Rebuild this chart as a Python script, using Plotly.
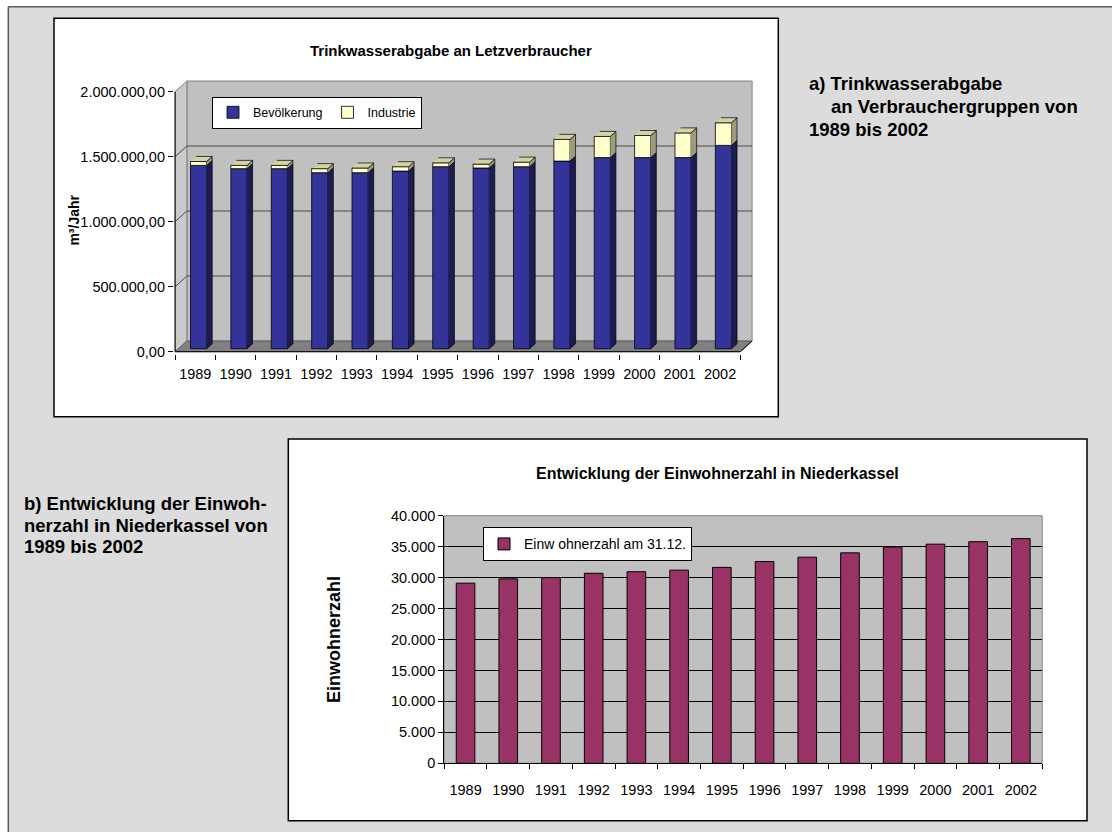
import plotly.graph_objects as go

W, H = 1112, 832
FONT = "Liberation Sans, Arial, sans-serif"

# data
jahre = ["1989", "1990", "1991", "1992", "1993", "1994", "1995",
         "1996", "1997", "1998", "1999", "2000", "2001", "2002"]
bevoelkerung = [1410000, 1385000, 1385000, 1354000, 1354000, 1366000, 1400000,
                1390000, 1400000, 1443000, 1470000, 1470000, 1470000, 1564000]
industrie = [30000, 25000, 25000, 31000, 36000, 34000, 30000,
             30000, 35000, 167000, 163000, 170000, 190000, 174000]
einwohner = [29100, 29800, 30000, 30700, 30950, 31200, 31650,
             32600, 33300, 34000, 34950, 35400, 35800, 36300]

ticks_a = [0, 500000, 1000000, 1500000, 2000000]
ticks_b = [0, 5000, 10000, 15000, 20000, 25000, 30000, 35000, 40000]

n = len(jahre)


def px_x(p):
    return p / W


def px_y(p):
    return 1 - p / H


# geometry of chart a (3D look), in pixels
A_LEFT, A_RIGHT = 175.1, 740.3
A_ZERO, A_TOP = 351.7, 91.7
A_MAX = ticks_a[-1]
cat_px = (A_RIGHT - A_LEFT) / n
val_px = (A_ZERO - A_TOP) / A_MAX
DX = 11.8 / cat_px
DY = 10.7 / val_px
x_rng = [-0.03, n + DX + 0.05]
y_rng = [-0.01 * A_MAX, A_MAX + DY + 0.01 * A_MAX]
BW = 0.4
D0, D1 = 0.28, 0.75

# geometry of chart b
B_LEFT, B_RIGHT = 444.2, 1042.2
B_ZERO, B_TOP = 763.3, 515.7

xc = [i + 0.5 for i in range(n)]
front_x = [c + D0 * DX for c in xc]

fig = go.Figure()

fig.add_bar(x=front_x, y=bevoelkerung, base=[D0 * DY] * n, width=BW,
            marker=dict(color="#333399", line=dict(color="black", width=0.8)),
            name="Bevölkerung", legend="legend", xaxis="x", yaxis="y")
fig.add_bar(x=front_x, y=industrie, base=[b + D0 * DY for b in bevoelkerung], width=BW,
            marker=dict(color="#ffffcc", line=dict(color="black", width=0.8)),
            name="Industrie", legend="legend", xaxis="x", yaxis="y")


def side_poly(lo, hi):
    xs, ys = [], []
    for c, a, b in zip(xc, lo, hi):
        xr = c + BW / 2
        xs += [xr + D0 * DX, xr + D1 * DX, xr + D1 * DX, xr + D0 * DX, None]
        ys += [a + D0 * DY, a + D1 * DY, b + D1 * DY, b + D0 * DY, None]
    return xs, ys


def top_poly(hi):
    xs, ys = [], []
    for c, b in zip(xc, hi):
        xl, xr = c - BW / 2, c + BW / 2
        xs += [xl + D0 * DX, xr + D0 * DX, xr + D1 * DX, xl + D1 * DX, None]
        ys += [b + D0 * DY, b + D0 * DY, b + D1 * DY, b + D1 * DY, None]
    return xs, ys


totals = [b + i for b, i in zip(bevoelkerung, industrie)]
faces = [
    (side_poly([0] * n, bevoelkerung), "#1c1c52"),
    (side_poly(bevoelkerung, totals), "#9c9c7c"),
    (top_poly(totals), "#d2d2a8"),
]
for (xs, ys), col in faces:
    fig.add_scatter(x=xs, y=ys, mode="lines", fill="toself", fillcolor=col,
                    line=dict(color="black", width=0.7), showlegend=False,
                    hoverinfo="skip", xaxis="x", yaxis="y")

fig.add_bar(x=xc, y=einwohner, width=0.436,
            marker=dict(color="#993366", line=dict(color="black", width=1)),
            name="Einw ohnerzahl am 31.12.", legend="legend2", xaxis="x2", yaxis="y2")

shapes = []
# page background and frame
shapes.append(dict(type="rect", xref="paper", yref="paper", x0=px_x(8.3), x1=1,
                   y0=0, y1=px_y(6.7), fillcolor="#dcdcdc", line=dict(width=0), layer="below"))
shapes.append(dict(type="line", xref="paper", yref="paper", x0=px_x(8.3), x1=px_x(8.3),
                   y0=0, y1=px_y(6.7), line=dict(color="#5a5a5a", width=1.5), layer="below"))
shapes.append(dict(type="line", xref="paper", yref="paper", x0=px_x(8.3), x1=1,
                   y0=px_y(6.7), y1=px_y(6.7), line=dict(color="#5a5a5a", width=1.5), layer="below"))
for x0, y0, x1, y1 in [(54, 18.3, 778.3, 416.7), (288.3, 439, 1087, 820.7)]:
    shapes.append(dict(type="rect", xref="paper", yref="paper", x0=px_x(x0), x1=px_x(x1),
                       y0=px_y(y1), y1=px_y(y0), fillcolor="white",
                       line=dict(color="black", width=1.5), layer="below"))

# walls and floor of chart a
def path(pts, close=True):
    s = "M " + " L ".join(f"{x},{y}" for x, y in pts)
    return s + (" Z" if close else "")


shapes.append(dict(type="path", xref="x", yref="y", layer="below",
                   path=path([(DX, DY), (n + DX, DY), (n + DX, A_MAX + DY), (DX, A_MAX + DY)]),
                   fillcolor="#c0c0c0", line=dict(color="#808080", width=1)))
shapes.append(dict(type="path", xref="x", yref="y", layer="below",
                   path=path([(0, 0), (DX, DY), (DX, A_MAX + DY), (0, A_MAX)]),
                   fillcolor="#cacaca", line=dict(color="#808080", width=1)))
shapes.append(dict(type="path", xref="x", yref="y", layer="below",
                   path=path([(0, 0), (n, 0), (n + DX, DY), (DX, DY)]),
                   fillcolor="#808080", line=dict(color="#606060", width=1)))
for v in ticks_a[1:-1]:
    shapes.append(dict(type="path", xref="x", yref="y", layer="below",
                       path=path([(0, v), (DX, v + DY), (n + DX, v + DY)], close=False),
                       line=dict(color="#4a4a4a", width=1)))
for x0, y0, x1, y1 in [(0, 0, 0, A_MAX), (0, 0, n, 0), (n, 0, n + DX, DY)]:
    shapes.append(dict(type="line", xref="x", yref="y", x0=x0, y0=y0, x1=x1, y1=y1,
                       line=dict(color="black", width=1), layer="above"))

# plot area of chart b
shapes.append(dict(type="rect", xref="x2 domain", yref="y2 domain", x0=0, x1=1, y0=0, y1=1,
                   fillcolor="#c0c0c0", line=dict(color="#808080", width=1), layer="below"))

annotations = []


def txt(x, y, s, size, bold=True, xanchor="left", angle=0):
    annotations.append(dict(x=px_x(x), y=px_y(y), xref="paper", yref="paper",
                            text=f"<b>{s}</b>" if bold else s, showarrow=False,
                            xanchor=xanchor, yanchor="middle", textangle=angle,
                            font=dict(family=FONT, size=size, color="black")))


txt(806.7, 84, "a) Trinkwasserabgabe", 18.5)
txt(828.7, 106.6, "an Verbrauchergruppen von", 18.5)
txt(806.7, 129.3, "1989 bis 2002", 18.5)
txt(21.7, 503, "b) Entwicklung der Einwoh-", 18.5)
txt(21.7, 525, "nerzahl in Niederkassel von", 18.5)
txt(21.7, 546, "1989 bis 2002", 18.5)
txt(451, 50, "Trinkwasserabgabe an Letzverbraucher", 15, xanchor="center")
txt(717.8, 473.3, "Entwicklung der Einwohnerzahl in Niederkassel", 16, xanchor="center")
txt(73.6, 220, "m³/Jahr", 14, xanchor="center", angle=-90)
txt(334, 640, "Einwohnerzahl", 18, xanchor="center", angle=-90)

tickfont = dict(family=FONT, size=14.5, color="black")

fig.update_layout(
    width=W, height=H, autosize=False,
    margin=dict(l=0, r=0, t=0, b=0, pad=0, autoexpand=False),
    paper_bgcolor="white", plot_bgcolor="rgba(0,0,0,0)",
    separators=",.",
    barmode="overlay",
    font=dict(family=FONT, color="black"),
    shapes=shapes, annotations=annotations,
    xaxis=dict(domain=[px_x(A_LEFT + x_rng[0] * cat_px), px_x(A_LEFT + x_rng[1] * cat_px)],
               range=x_rng, tickvals=xc, ticktext=jahre, ticks="outside", ticklen=6,
               tickcolor="rgba(0,0,0,0)", showgrid=False, zeroline=False, showline=False,
               tickfont=tickfont, fixedrange=True, automargin=False,
               minor=dict(tickvals=list(range(n + 1)), ticks="outside", ticklen=5,
                          tickcolor="black", showgrid=False)),
    yaxis=dict(domain=[px_y(A_ZERO - y_rng[0] * val_px), px_y(A_ZERO - y_rng[1] * val_px)],
               range=y_rng, tickvals=ticks_a, tickformat=",.2f", ticks="outside", ticklen=5,
               tickcolor="black", showgrid=False, zeroline=False, showline=False,
               tickfont=tickfont, fixedrange=True, automargin=False),
    xaxis2=dict(domain=[px_x(B_LEFT), px_x(B_RIGHT)], range=[0, n], anchor="y2",
                tickvals=xc, ticktext=jahre, ticks="outside", ticklen=13,
                tickcolor="rgba(0,0,0,0)", showgrid=False, zeroline=False,
                showline=True, linecolor="black", linewidth=1, tickfont=tickfont,
                automargin=False,
                minor=dict(tickvals=list(range(n + 1)), ticks="outside", ticklen=5,
                           tickcolor="black", showgrid=False)),
    yaxis2=dict(domain=[px_y(B_ZERO), px_y(B_TOP)], range=[0, ticks_b[-1]], anchor="x2",
                tickvals=ticks_b, tickformat=",d", ticks="outside", ticklen=5,
                tickcolor="black", showgrid=True, gridcolor="black", gridwidth=1,
                zeroline=False, showline=True, linecolor="black", linewidth=1,
                tickfont=tickfont, automargin=False),
    legend=dict(x=px_x(212), y=px_y(96.7), xanchor="left", yanchor="top",
                orientation="h", bgcolor="white", bordercolor="black", borderwidth=1,
                font=dict(family=FONT, size=12.5, color="black"), itemclick=False,
                itemwidth=30, tracegroupgap=0),
    legend2=dict(x=px_x(483), y=px_y(527.3), xanchor="left", yanchor="top",
                 orientation="h", bgcolor="white", bordercolor="black", borderwidth=1,
                 font=dict(family=FONT, size=14, color="black"), itemclick=False),
)

# pin the plot to the top-left corner of the window
pin = ("document.documentElement.style.overflow='hidden';"
       "document.body.style.margin='0';document.body.style.overflow='hidden';"
       "var d=document.getElementsByClassName('plotly-graph-div')[0];"
       "d.style.position='fixed';d.style.left='0px';d.style.top='0px';")
fig.write_html("out.html", config={"displayModeBar": False}, post_script=pin)
